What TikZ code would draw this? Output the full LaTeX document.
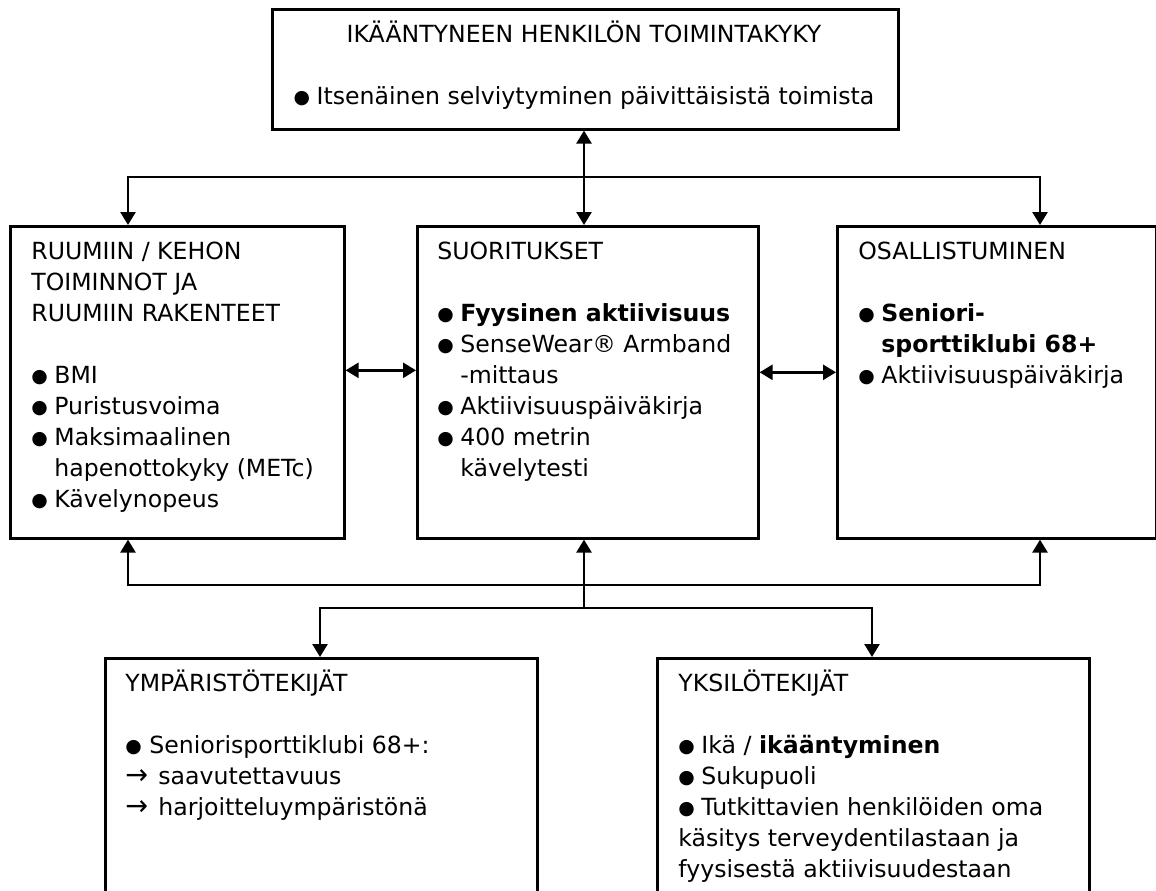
\documentclass[tikz,border=0pt]{standalone}
\usepackage{fontspec}
\setmainfont{DejaVu Sans}
\usepackage{graphicx}
\usetikzlibrary{arrows.meta, positioning, calc}

\newcommand{\dotmark}{\raisebox{0.5pt}{\scalebox{0.8}{●}}}
\newcommand{\bul}{\makebox[11.5pt][l]{\dotmark}}
\newcommand{\ind}{\hspace*{11.5pt}}
\newcommand{\arw}{\makebox[16.5pt][l]{\scalebox{1.15}[1.2]{→}}}
\newcommand{\firstln}{\rule{0pt}{12pt}}

\begin{document}
\begin{tikzpicture}[x=0.5pt, y=-0.5pt,
    box/.style={draw, line width=1.3pt, anchor=north west, inner sep=0pt},
    txt/.style={anchor=north west, inner sep=0pt, align=left, font=\fontsize{11.8}{15.5}\selectfont},
    arr/.style={line width=1.3pt, -{Triangle[width=7.5pt, length=6.5pt]}},
    dbl/.style={line width=1.3pt, {Triangle[width=7.5pt, length=6.5pt]}-{Triangle[width=7.5pt, length=6.5pt]}}]
    \useasboundingbox (0,0) rectangle (1156,890);
    \clip (0,0) rectangle (1156,890);

    % --- Boxes ---
    \node[box, minimum width=313pt, minimum height=60pt] (top) at (271,8) {};
    \node[box, minimum width=167pt, minimum height=156pt] (lbox) at (9,225) {};
    \node[box, minimum width=170.5pt, minimum height=156pt] (mbox) at (416,225) {};
    \node[box, minimum width=159.25pt, minimum height=156pt] (rbox) at (836,225) {};
    \node[box, minimum width=216pt, minimum height=150pt] (blbox) at (104,657) {};
    \node[box, minimum width=216pt, minimum height=150pt] (brbox) at (656,657) {};

    % --- Texts ---
    \node[txt, anchor=north, align=center] (ttop) at (584,18)
        {\firstln IKÄÄNTYNEEN HENKILÖN TOIMINTAKYKY\\[15.5pt]
         \bul Itsenäinen selviytyminen päivittäisistä toimista};
    \node[txt] (tl) at (31,235)
        {\firstln RUUMIIN / KEHON\\ TOIMINNOT JA\\ RUUMIIN RAKENTEET\\[15.5pt]
         \bul BMI\\ \bul Puristusvoima\\ \bul Maksimaalinen\\
         \ind hapenottokyky (METc)\\ \bul Kävelynopeus};
    \node[txt] (tm) at (437,235)
        {\firstln SUORITUKSET\\[15.5pt]
         \bul\textbf{Fyysinen aktiivisuus}\\ \bul SenseWear® Armband\\
         \ind -mittaus\\ \bul Aktiivisuuspäiväkirja\\ \bul 400 metrin\\
         \ind kävelytesti};
    \node[txt] (tr) at (858,235)
        {\firstln OSALLISTUMINEN\\[15.5pt]
         \bul\textbf{Seniori-}\\ \ind\textbf{sporttiklubi 68+}\\
         \bul Aktiivisuuspäiväkirja};
    \node[txt] (tbl) at (125,667)
        {\firstln YMPÄRISTÖTEKIJÄT\\[15.5pt]
         \makebox[12pt][l]{\dotmark}Seniorisporttiklubi 68+:\\
         \arw saavutettavuus\\ \arw harjoitteluympäristönä};
    \node[txt] (tbr) at (678,667)
        {\firstln YKSILÖTEKIJÄT\\[15.5pt]
         \bul Ikä / \textbf{ikääntyminen}\\ \bul Sukupuoli\\
         \bul Tutkittavien henkilöiden oma\\ käsitys terveydentilastaan ja\\
         fyysisestä aktiivisuudestaan};

    % --- Connector points ---
    \coordinate (ltop) at ([xshift=59.5pt]lbox.north west);
    \coordinate (mtop) at ([xshift=84pt]mbox.north west);
    \coordinate (rtop) at ([xshift=102pt]rbox.north west);
    \coordinate (lbot) at ([xshift=59.5pt]lbox.south west);
    \coordinate (mbot) at ([xshift=84pt]mbox.south west);
    \coordinate (rbot) at ([xshift=102pt]rbox.south west);
    \coordinate (blin) at ([xshift=108pt]blbox.north west);
    \coordinate (brin) at ([xshift=108pt]brbox.north west);
    \coordinate (lm) at ([yshift=6pt]lbox.east);
    \coordinate (mr) at ([yshift=5pt]mbox.east);
    \coordinate (jtop) at (584,177);
    \coordinate (jup) at (584,585);
    \coordinate (jdown) at (584,608);

    % --- Top connectors ---
    \draw[dbl] (mtop |- top.south) -- (mtop);
    \draw[arr] (jtop) -| (ltop);
    \draw[arr] (jtop) -| (rtop);

    % --- Side connectors ---
    \draw[dbl] (lm) -- (lm -| mbox.west);
    \draw[dbl] (mr) -- (mr -| rbox.west);

    % --- Bottom connectors ---
    \draw[arr] (jdown) -- (mbot);
    \draw[arr] (jup) -| (lbot);
    \draw[arr] (jup) -| (rbot);
    \draw[arr] (jdown) -| (blin);
    \draw[arr] (jdown) -| (brin);
\end{tikzpicture}
\end{document}
